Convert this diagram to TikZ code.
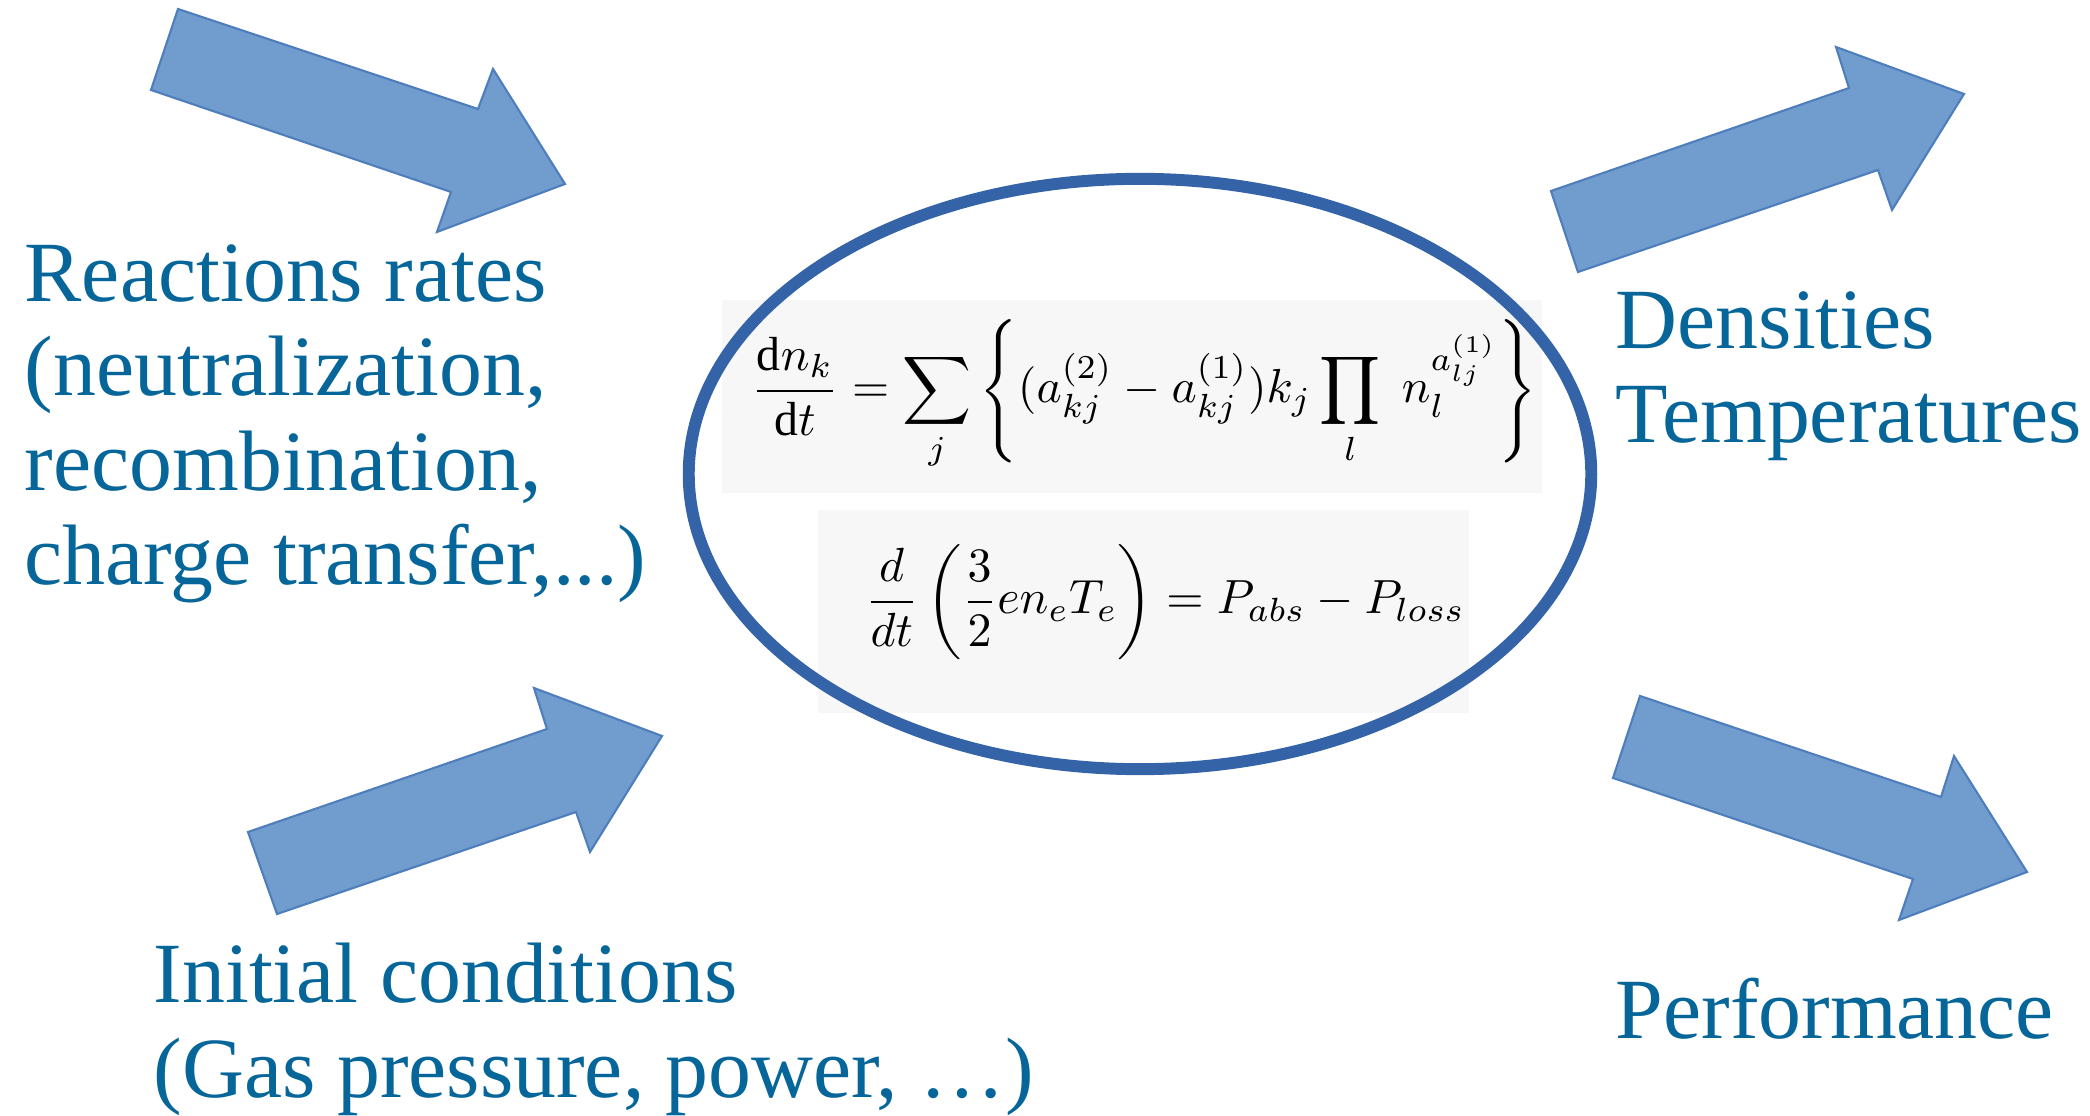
\documentclass[tikz,border=0pt]{standalone}
\usepackage{amsmath}
\usepackage{fontspec}
\setmainfont{Liberation Serif}
\usepackage{graphicx}
\usetikzlibrary{shapes.geometric, positioning}
\definecolor{arrowblue}{HTML}{719CCE}
\definecolor{edgeblue}{HTML}{4F7EBD}
\definecolor{ringblue}{HTML}{3563A8}
\definecolor{labelblue}{HTML}{06669A}

\begin{document}
\begin{tikzpicture}[x=0.01cm, y=-0.01cm,
    blockarrow/.style={fill=arrowblue, draw=edgeblue, line width=0.6pt, line join=miter},
    sidetext/.style={font=\fontsize{24.4}{26.9}\selectfont, text=labelblue, align=left, inner sep=0pt, anchor=base west},
    eqback/.style={fill=black!3, draw=none}]
  \useasboundingbox (0,0) rectangle (2090,1116);
  % Flechas de entrada
  \draw[blockarrow] (178,9) -- (478,109) -- (493,69) -- (565,184) -- (437,232) -- (451,192) -- (151,90) -- cycle;
  \draw[blockarrow] (248,832) -- (547,729) -- (534,688) -- (662,736) -- (590,852) -- (576,812) -- (277,914) -- cycle;
  % Flechas de salida
  \draw[blockarrow] (1551,191) -- (1849,88) -- (1836,47) -- (1964,94) -- (1892,210) -- (1878,170) -- (1578,272) -- cycle;
  \draw[blockarrow] (1640,696) -- (1941,797) -- (1954,756) -- (2027,872) -- (1899,920) -- (1913,879) -- (1613,778) -- cycle;
  % Modelo global
  \fill[eqback] (722,300) rectangle (1542,493);
  \fill[eqback] (818,510) rectangle (1469,713);
  \node[draw=ringblue, line width=3.4pt, ellipse, inner sep=0pt, minimum width=9.02cm, minimum height=5.9cm] (core) at (1140,474) {};
  \node (eqspecies) at (1144,395) {\resizebox{7.85cm}{!}{$\displaystyle \frac{\mathrm{d}n_k}{\mathrm{d}t}=\sum_j\left\{(a_{kj}^{(2)}-a_{kj}^{(1)})k_j\prod_l\; n_l^{a_{lj}^{(1)}}\right\}$}};
  \node (eqenergy) at (1165,602) {\resizebox{6.0cm}{!}{$\displaystyle \frac{d}{dt}\left(\frac{3}{2}en_eT_e\right)=P_{abs}-P_{loss}$}};
  % Textos (base = ultima linea)
  \node[sidetext] (rates) at (24,585) {Reactions rates\\(neutralization,\\recombination,\\charge transfer,...)};
  \node[sidetext] (initcond) at (153,1097) {Initial conditions\\(Gas pressure, power, \dots)};
  \node[sidetext] (densities) at (1615,443) {Densities\\Temperatures};
  \node[sidetext] (perf) at (1615,1038) {Performance};
\end{tikzpicture}
\end{document}
